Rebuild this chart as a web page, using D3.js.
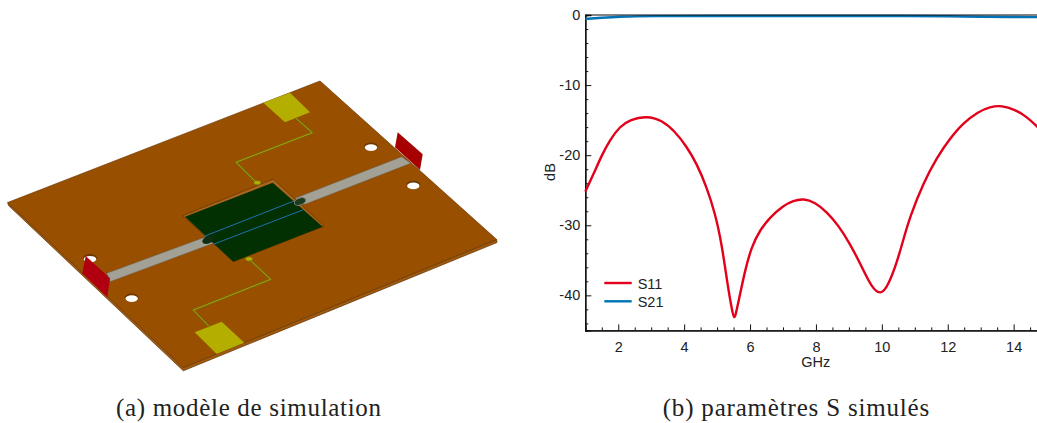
<!DOCTYPE html>
<html><head><meta charset="utf-8">
<script src="https://cdn.jsdelivr.net/npm/d3@7"></script>
<style>html,body{margin:0;padding:0;background:#fff;overflow:hidden}svg{display:block}
.tk text{font-family:"Liberation Sans",Arial,sans-serif;font-size:14.5px;fill:#222}
.lb{font-family:"Liberation Sans",Arial,sans-serif;font-size:14.5px;fill:#222}
.cap{font-family:"Liberation Serif",serif;font-size:25px;fill:#222}
</style></head><body>
<svg id="c" width="1037" height="423"></svg>
<script>
// ---- chart data ----
const s11Freq = [1,1.24,1.5,1.75,2.05,2.36,2.86,3.32,3.72,4.08,4.38,4.68,4.94,5.14,5.34,5.45,5.52,5.59,5.69,5.85,6.05,6.3,6.6,7.01,7.31,7.62,7.97,8.33,8.68,9.03,9.39,9.69,9.97,10.2,10.45,10.65,10.85,11.26,11.66,12.07,12.47,12.93,13.28,13.64,14.04,14.4,14.75];
const s11Db = [-25.2,-22.8,-20,-17.8,-15.9,-14.9,-14.4,-15,-16.6,-18.8,-21.2,-24.5,-28.3,-32.6,-39.2,-42,-43.6,-42.2,-40,-36.4,-33,-30.7,-28.9,-27.2,-26.5,-26.2,-26.7,-28.1,-30,-32.6,-35.9,-38.9,-40,-38.5,-35.4,-32.1,-28.8,-24,-20.4,-17.6,-15.4,-13.8,-13.1,-12.9,-13.5,-14.5,-16.1];
const s21Freq = [1,1.5,2,3,5,8,11,12,13,14,14.75];
const s21Db = [-0.55,-0.4,-0.25,-0.15,-0.14,-0.14,-0.14,-0.18,-0.25,-0.28,-0.3];
const xMajor = [2,4,6,8,10,12,14];
const xMinor = d3.range(1.5,15,0.5).filter(v=>!xMajor.includes(v));
const yMajor = [0,-10,-20,-30,-40];
const yMinor = d3.range(-44,0,2).filter(v=>!yMajor.includes(v));
const legendNames = ["S11","S21"];
const captions = ["(a) modèle de simulation","(b) paramètres S simulés"];

// ---- illustration geometry (picture pixels) ----
const boardTop = [[320,81],[496.7,239.5],[183.3,367.5],[7.7,202.5]];
const boardSide = [[7.7,202.5],[183.3,367.5],[496.7,239.5],[497,242.5],[183.3,370.8],[8.5,205.5]];
const cavity = [[182.7,215.7],[273.3,179],[324,226],[233.3,261.7]];
const patch = [[185,216.7],[272.7,182.7],[322.7,226.7],[233.3,261.7]];
const stripA = [[106.7,273.3],[203.3,237.7],[213.3,243.3],[110,281.7]];
const stripB = [[295,198.3],[401.7,156.7],[410.7,163.3],[305,204.3]];
const padTop = [[263.3,102.7],[290,92.7],[310,112.3],[285,122.3]];
const padBottom = [[194.7,332.3],[221.7,321.7],[244.3,342.7],[216.7,354]];
const traceTop = [[296,118.3],[312.3,132.7],[236,162.3],[256.7,182.7]];
const traceBottom = [[249,259],[270.7,279.3],[193.3,310],[209.3,326.7]];
const coplanarA = [[203.3,236.7],[294,201]];
const coplanarB = [[213.3,244.3],[302.7,210]];
const portRight = [[397.7,132.3],[422.7,154.3],[420,170],[395,147.3]];
const portLeft = [[85.7,256],[110,278.3],[107.3,297.3],[82.3,273.3]];
const holes = [[371,146.7],[413.3,185],[131.7,297.7],[90,258.3]];
const blobs = [[257.3,182.7],[249,259]];

const svg = d3.select("#c");
const poly = (pts,fill,stroke,sw,g) => (g||svg).append("path")
  .attr("d",d3.line()(pts)+"Z").attr("fill",fill).attr("stroke",stroke||"none").attr("stroke-width",sw||0);
const wire = (pts,col,sw) => svg.append("path").attr("d",d3.line()(pts)).attr("fill","none")
  .attr("stroke",col).attr("stroke-width",sw).attr("stroke-linejoin","miter");

// illustration
poly(boardSide,"#a05a10","#5e3000",0.7);
poly(boardTop,"#994f00","#6b3800",0.7);
holes.forEach(h=>{
  svg.append("ellipse").attr("cx",h[0]).attr("cy",h[1]).attr("rx",7).attr("ry",4.2).attr("fill","#6b3800");
  svg.append("ellipse").attr("cx",h[0]).attr("cy",h[1]+0.9).attr("rx",6.2).attr("ry",3.3).attr("fill","#fff");
});
poly(cavity,"#a8641c","#6b3800",0.8);
poly(patch,"#023002");
poly(stripA,"#a3a095","#5c5c50",0.4);
poly(stripB,"#a3a095","#5c5c50",0.4);
svg.append("ellipse").attr("cx",208).attr("cy",240).attr("rx",6).attr("ry",3.5).attr("transform","rotate(-21 208 240)").attr("fill","#0f2e12");
svg.append("ellipse").attr("cx",300).attr("cy",201.5).attr("rx",6).attr("ry",3.5).attr("transform","rotate(-21 300 201.5)").attr("fill","#1d3a20").attr("stroke","#7b8076").attr("stroke-width",1);
wire(coplanarA,"#1f6fb0",1);
wire(coplanarB,"#1f6fb0",1);
poly(padTop,"#b4ae00");
poly(padBottom,"#b4ae00");
wire(traceTop,"#6e6c10",2);
wire(traceBottom,"#6e6c10",2);
wire(traceTop,"#b4ae00",0.8);
wire(traceBottom,"#b4ae00",0.8);
blobs.forEach(b=>svg.append("ellipse").attr("cx",b[0]).attr("cy",b[1]).attr("rx",3.6).attr("ry",2.2).attr("fill","#b4ae00").attr("stroke","#6e6c10").attr("stroke-width",.7));
poly(portRight,"#a60000");
poly(portLeft,"#b00010");

// plot
const x = d3.scaleLinear().domain([1,15]).range([585.3,1046.6]);
const y = d3.scaleLinear().domain([0,-45]).range([15,330.4]);
const xAxis = d3.axisBottom(x).tickValues(xMajor).tickSize(-6).tickPadding(11).tickFormat(d3.format("d"));
const xAxisMinor = d3.axisBottom(x).tickValues(xMinor).tickSize(-3).tickFormat("");
const yAxis = d3.axisLeft(y).tickValues(yMajor).tickSize(-6).tickPadding(5).tickFormat(d=>String(d));
const yAxisMinor = d3.axisLeft(y).tickValues(yMinor).tickSize(-3).tickFormat("");
const styleAxis = g => { g.attr("class","tk").attr("font-family",null).attr("font-size",null);
  g.selectAll("path").attr("stroke","#111").attr("stroke-width",1.3);
  g.selectAll("line").attr("stroke","#111").attr("stroke-width",1); };
svg.append("g").attr("transform",`translate(0,${y(-45)})`).call(xAxisMinor).call(styleAxis);
svg.append("g").attr("transform",`translate(0,${y(-45)})`).call(xAxis).call(styleAxis);
svg.append("g").attr("transform",`translate(${x(1)},0)`).call(yAxisMinor).call(styleAxis);
svg.append("g").attr("transform",`translate(${x(1)},0)`).call(yAxis).call(styleAxis);

const line = d3.line().x(d=>x(d[0])).y(d=>y(d[1])).curve(d3.curveBasis);
svg.append("path").datum(d3.zip(s21Freq,s21Db)).attr("d",line).attr("fill","none").attr("stroke","#0072b5").attr("stroke-width",2.4);
svg.append("line").attr("x1",x(1)).attr("x2",x(15)).attr("y1",y(0)).attr("y2",y(0)).attr("stroke","#0a0a0a").attr("stroke-width",1.2);
svg.append("path").datum(d3.zip(s11Freq,s11Db)).attr("d",line).attr("fill","none").attr("stroke","#e2001a").attr("stroke-width",2.4);

// labels
svg.append("text").attr("class","lb").attr("x",815.7).attr("y",366.5).attr("text-anchor","middle").text("GHz");
svg.append("text").attr("class","lb").attr("transform","translate(554.5,172) rotate(-90)").attr("text-anchor","middle").text("dB");

// legend
const legendColors = ["#e2001a","#0072b5"];
const legY = d3.scalePoint().domain(legendNames).range([283,301.3]);
legendNames.forEach((n,i)=>{
  svg.append("line").attr("x1",604.3).attr("x2",631.7).attr("y1",legY(n)).attr("y2",legY(n)).attr("stroke",legendColors[i]).attr("stroke-width",2.4);
  svg.append("text").attr("class","lb").attr("x",637.7).attr("y",legY(n)+5.5).text(n);
});

// captions
svg.append("text").attr("class","cap").attr("x",116).attr("y",416).attr("textLength",265).attr("lengthAdjust","spacing").text(captions[0]);
svg.append("text").attr("class","cap").attr("x",662.7).attr("y",416).attr("textLength",266.5).attr("lengthAdjust","spacing").text(captions[1]);
</script>
</body></html>
